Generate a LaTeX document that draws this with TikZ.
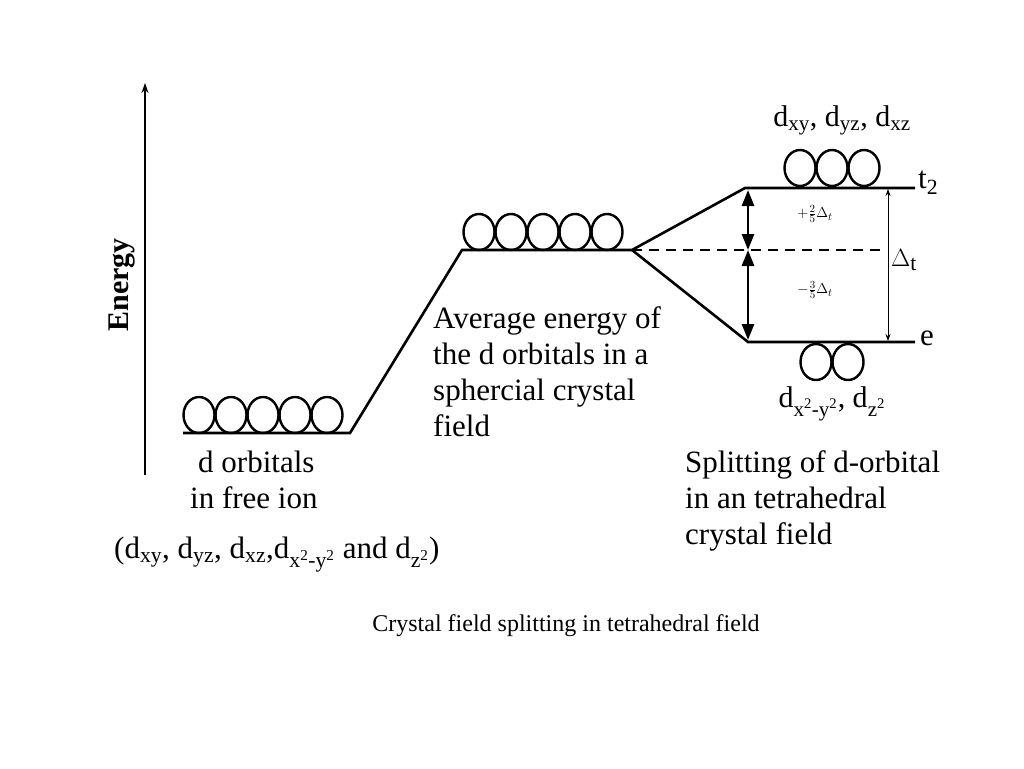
\documentclass[tikz,border=0pt]{standalone}
\usepackage{fontspec}
\setmainfont{Liberation Serif}
\usetikzlibrary{arrows.meta}
\newcommand{\sbs}[1]{\textsubscript{#1}}
\begin{document}
\begin{tikzpicture}[x=1pt,y=-1pt,
  lev/.style={line width=2.6pt},
  orb/.style={line width=2.4pt,x radius=15.5,y radius=18},
  txt/.style={font=\fontsize{31}{36}\selectfont,align=left,inner sep=0},
  big/.style={line width=2.6pt,{Triangle[length=16,width=12]}-{Triangle[length=16,width=12]}}]
\useasboundingbox (0,0) rectangle (1024,768);
% energy axis
\coordinate (e0) at (145,475); \coordinate (e1) at (145,83);
\draw[line width=1.6pt,-{Stealth[length=10,width=7]}] (e0) -- (e1);
\node[rotate=90,font=\fontsize{30}{30}\selectfont\bfseries] (en) at (122,285) {Energy};
% levels
\coordinate (a1) at (183,433); \coordinate (a2) at (350,433);
\coordinate (b1) at (462,250); \coordinate (b2) at (632,250);
\coordinate (t1) at (745,188); \coordinate (t2) at (915,188);
\coordinate (c1) at (748,342); \coordinate (c2) at (915,342);
\coordinate (d2) at (885,250);
\draw[lev] (a1) -- (a2) -- (b1) -- (b2) -- (t1) -- (t2);
\draw[lev] (b2) -- (c1) -- (c2);
\draw[lev,dash pattern=on 10pt off 7pt] (b2) -- (d2);
\foreach \x in {199,231,263,295,327} \draw[orb] (\x,415) ellipse [];
\foreach \x in {479,511,543,575,607} \draw[orb] (\x,232) ellipse [];
\foreach \x in {800,832,864} \draw[orb] (\x,168) ellipse [];
\foreach \x in {816,848} \draw[orb] (\x,362) ellipse [];
% arrows
\coordinate (m) at (748,250);
\draw[big] (748,190) -- (m);
\draw[big] (m) -- (748,340);
\draw[line width=0.9pt,{Stealth[length=7,width=5]}-{Stealth[length=7,width=5]}] (888,189) -- (888,341);
\node[font=\fontsize{15}{15}\selectfont] (p) at (815,214) {$+\frac{2}{5}\Delta_t$};
\node[font=\fontsize{15}{15}\selectfont] (q) at (815,290) {$-\frac{3}{5}\Delta_t$};
\node[font=\fontsize{31}{30}\selectfont,anchor=west,inner sep=0] (D) at (891,260) {$\Delta$\sbs{t}};
\node[txt,anchor=west] (lt) at (918,183) {t\sbs{2}};
\node[txt,anchor=west] (le) at (920,338) {e};
\node[font=\fontsize{30}{30}\selectfont] (top) at (842,120) {d\sbs{xy}, d\sbs{yz}, d\sbs{xz}};
\node[font=\fontsize{30}{30}\selectfont] (bot) at (832,404) {d\sbs{x\textsuperscript{2}-y\textsuperscript{2}}, d\sbs{z\textsuperscript{2}}};
% labels
\node[txt,anchor=north west] (l1) at (190,451) {\hspace*{8pt}d  orbitals\\in free ion};
\node[font=\fontsize{31}{36}\selectfont,anchor=north west,inner sep=0] (l2) at (114,537) {(d\sbs{xy}, d\sbs{yz}, d\sbs{xz},d\sbs{x\textsuperscript{2}-y\textsuperscript{2}} and d\sbs{z\textsuperscript{2}})};
\node[txt,anchor=north west] (l3) at (433,306) {Average energy of\\the d orbitals in a\\sphercial crystal\\field};
\node[txt,anchor=north west] (l4) at (685,450) {Splitting of  d-orbital\\in an tetrahedral\\crystal field};
\node[font=\fontsize{24}{24}\selectfont] (cap) at (566,626) {Crystal field splitting in tetrahedral field};
\end{tikzpicture}
\end{document}
